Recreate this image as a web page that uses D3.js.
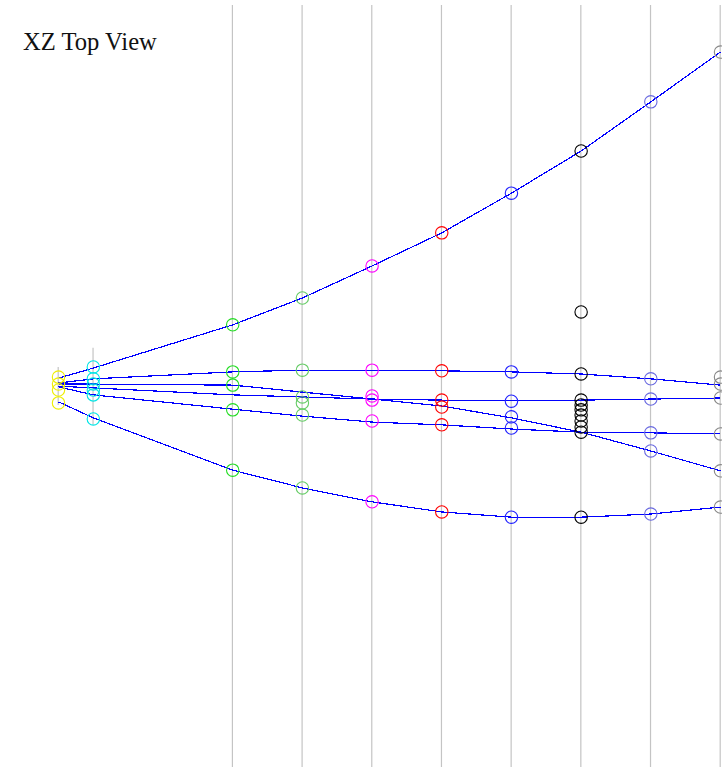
<!DOCTYPE html>
<html>
<head>
<meta charset="utf-8">
<script src="https://cdn.jsdelivr.net/npm/d3@7"></script>
<style>
  html, body { margin: 0; padding: 0; background: #fff; overflow: hidden; }
  svg { display: block; }
  .title { font-family: "Liberation Serif", "Times New Roman", serif; font-size: 24.6px; }
</style>
</head>
<body>
<svg id="view" width="722" height="767"></svg>
<script>
// Station positions along X (span-wise), top view units
const stations = [0, 10, 50, 70, 90, 110, 130, 150, 170, 190];

// Marker colour per station
const stationColors = ["#eeee00", "#00e5e5", "#22dd22", "#66cc66", "#ff00ff",
                       "#ff0000", "#2222ff", "#000000", "#6a6ae0", "#888888"];

// Station guide extents in Z (top, bottom)
const guideTop    = [6.6, 12.1, 110.5, 110.5, 110.5, 110.5, 110.5, 110.5, 110.5, 110.5];
const guideBottom = [-4.3, -10.0, -108.2, -108.2, -108.2, -108.2, -108.2, -108.2, -108.2, -108.2];

// Curves: Z value at each station
const curveA = [3.4, 6.3, 18.7, 26.4, 35.6, 45.1, 56.5, 68.6, 82.7, 97.0];
const curveB = [-3.4, -8.0, -23.0, -28.1, -32.1, -35.0, -36.5, -36.5, -35.6, -33.6];
const curveC = [2.0, 3.2, 5.2, 5.7, 5.7, 5.5, 5.2, 4.6, 3.2, 1.4];
const curveD = [1.1, 0.6, -1.4, -2.0, -2.6, -2.9, -2.9, -2.9, -2.6, -2.3];
const curveE = [1.7, 1.7, 1.4, -0.6, -2.6, -4.6, -8.0, -12.1, -17.5, -23.2];
const curveF = [0.9, -1.4, -5.5, -7.5, -9.2, -10.0, -11.2, -12.1, -12.3, -12.6];

// Section points: Z values of the points at each station
const pointsSt0 = [3.7, 1.7, 0, -3.7];
const pointsSt1 = [6.6, 3.2, 1.7, 0, -1.4, -8.3];
const pointsSt2 = [18.7, 5.2, 1.4, -5.7, -23.0];
const pointsSt3 = [26.4, 5.7, -2.0, -3.7, -7.2, -28.1];
const pointsSt4 = [35.6, 5.7, -1.7, -2.9, -8.9, -32.1];
const pointsSt5 = [45.1, 5.5, -2.9, -4.9, -10.0, -35.0];
const pointsSt6 = [56.5, 5.2, -3.2, -7.7, -10.9, -36.5];
const pointsSt7 = [68.6, 22.4, 4.6, -2.9, -4.3, -5.7, -7.2, -8.9, -10.6, -12.1, -36.5];
const pointsSt8 = [82.7, 3.2, -2.6, -12.3, -17.5, -35.6];
const pointsSt9 = [97.0, 3.7, 1.7, -2.3, -12.6, -23.2, -33.6];

const curves = [curveA, curveB, curveC, curveD, curveE, curveF];
const stationPoints = [pointsSt0, pointsSt1, pointsSt2, pointsSt3, pointsSt4,
                       pointsSt5, pointsSt6, pointsSt7, pointsSt8, pointsSt9];

const svg = d3.select("#view");

// Equal scale on both axes so the top view is not distorted
const x = d3.scaleLinear().domain([0, 190]).range([58.5, 720.5]);
const z = d3.scaleLinear().domain([0, 100]).range([390, 390 - 348.42]);

// Station guide lines
svg.append("g")
  .selectAll("line")
  .data(stations)
  .join("line")
    .attr("x1", d => x(d) - 0.3)
    .attr("x2", d => x(d) - 0.3)
    .attr("y1", (d, i) => z(guideTop[i]))
    .attr("y2", (d, i) => z(guideBottom[i]))
    .attr("stroke", "#c4c4c4")
    .attr("stroke-width", 1.2);

// Curves through the stations
const line = d3.line()
  .x((d, i) => x(stations[i]))
  .y(d => z(d));

svg.append("g")
  .selectAll("path")
  .data(curves)
  .join("path")
    .attr("d", line)
    .attr("fill", "none")
    .attr("stroke", "#0000ff")
    .attr("stroke-width", 1.2)
    .attr("shape-rendering", "crispEdges");

// Section points as open circles
const pts = stationPoints.flatMap((arr, i) => arr.map(v => ({ s: i, v })));
svg.append("g")
  .selectAll("circle")
  .data(pts)
  .join("circle")
    .attr("cx", d => x(stations[d.s]))
    .attr("cy", d => z(d.v))
    .attr("r", 6.2)
    .attr("fill", "none")
    .attr("stroke", d => stationColors[d.s])
    .attr("stroke-width", 1.1);

// Title
svg.append("text")
  .attr("class", "title")
  .attr("x", 23)
  .attr("y", 50)
  .attr("fill", "#111")
  .text("XZ Top View");
</script>
</body>
</html>
